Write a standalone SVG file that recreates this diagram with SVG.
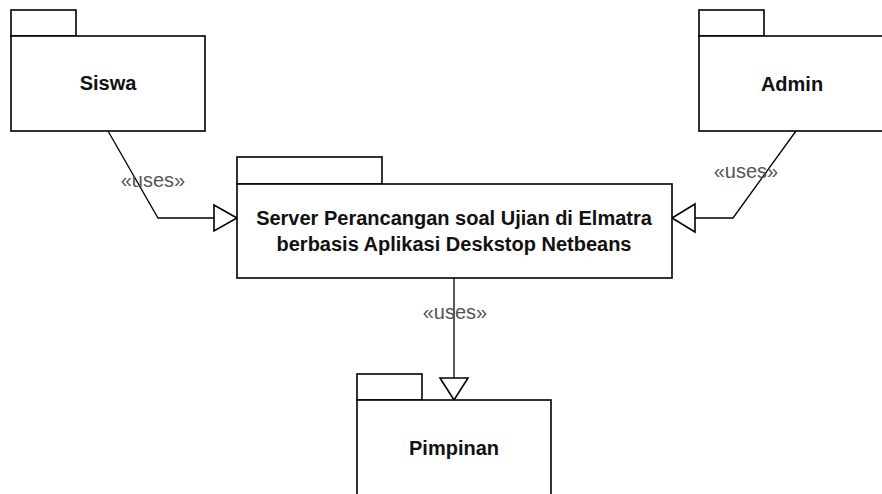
<svg xmlns="http://www.w3.org/2000/svg" width="882" height="494" viewBox="0 0 882 494">
<style>
.box{fill:#fff;stroke:#000;stroke-width:1.6}
.lbl{font-family:"Liberation Sans",Arial,sans-serif;font-weight:bold;font-size:20px;fill:#111;text-anchor:middle}
.st{font-family:"Liberation Sans",Arial,sans-serif;font-size:20px;fill:#555;text-anchor:middle}
.ln{fill:none;stroke:#000;stroke-width:1.3}
.tri{fill:#fff;stroke:#000;stroke-width:1.6;stroke-linejoin:miter}
</style>
<rect width="882" height="494" fill="#fff"/>
<g id="connectors">
<polyline class="ln" points="108,131 158,218 214,218"/>
<polygon class="tri" points="214,205 237,218 214,231"/>
<polyline class="ln" points="796,131 733,218 695,218"/>
<polygon class="tri" points="695,204 672,218 695,232"/>
<line class="ln" x1="454" y1="278" x2="454" y2="378"/>
<polygon class="tri" points="440,378 454,400 468,378"/>
<text class="st" x="153" y="187">«uses»</text>
<text class="st" x="746" y="178">«uses»</text>
<text class="st" x="455" y="319">«uses»</text>
</g>
<g id="siswa">
<rect class="box" x="11" y="10" width="65" height="26"/>
<rect class="box" x="11" y="36" width="194" height="95"/>
<text class="lbl" x="108" y="90">Siswa</text>
</g>
<g id="admin">
<rect class="box" x="699" y="10" width="65" height="26"/>
<rect class="box" x="699" y="36" width="194" height="95"/>
<text class="lbl" x="792" y="91">Admin</text>
</g>
<g id="server">
<rect class="box" x="237" y="157" width="145" height="27"/>
<rect class="box" x="237" y="184" width="435" height="94"/>
<text class="lbl" x="454" y="225">Server Perancangan soal Ujian di Elmatra</text>
<text class="lbl" x="454" y="251">berbasis Aplikasi Deskstop Netbeans</text>
</g>
<g id="pimpinan">
<rect class="box" x="357" y="374" width="65" height="26"/>
<rect class="box" x="357" y="400" width="194" height="100"/>
<text class="lbl" x="454" y="455">Pimpinan</text>
</g>
</svg>
